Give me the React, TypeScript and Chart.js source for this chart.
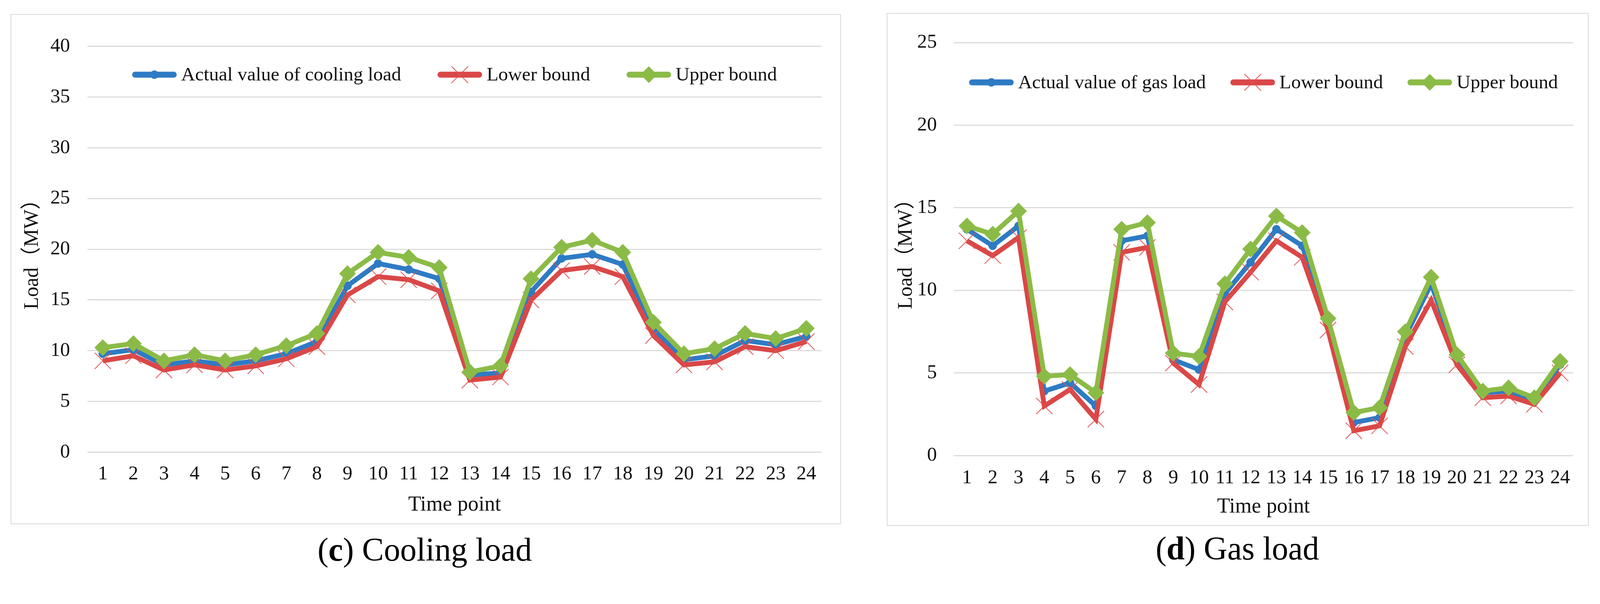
import React, { useEffect, useRef } from 'react';
import { Chart, registerables } from 'chart.js';

Chart.register(...registerables);

// ---------------- data ----------------
const timePoints = ['1', '2', '3', '4', '5', '6', '7', '8', '9', '10', '11', '12', '13', '14', '15', '16', '17', '18', '19', '20', '21', '22', '23', '24'];

const coolingActual = [9.7, 10.1, 8.6, 9.0, 8.6, 9.0, 9.7, 10.9, 16.4, 18.6, 18.0, 17.1, 7.6, 7.8, 15.8, 19.1, 19.5, 18.5, 12.1, 9.1, 9.5, 11.0, 10.6, 11.4];
const coolingLower = [9.0, 9.5, 8.1, 8.6, 8.1, 8.5, 9.2, 10.4, 15.5, 17.3, 17.0, 15.9, 7.1, 7.4, 15.0, 17.9, 18.3, 17.3, 11.5, 8.6, 8.9, 10.4, 10.0, 10.9];
const coolingUpper = [10.3, 10.7, 9.0, 9.6, 9.0, 9.6, 10.5, 11.7, 17.6, 19.7, 19.2, 18.2, 7.9, 8.5, 17.1, 20.2, 20.9, 19.7, 12.8, 9.7, 10.2, 11.7, 11.2, 12.2];

const gasActual = [13.7, 12.7, 13.9, 3.9, 4.4, 3.0, 13.0, 13.3, 5.8, 5.2, 9.8, 11.7, 13.7, 12.7, 8.1, 2.0, 2.3, 7.2, 10.4, 5.9, 3.8, 3.9, 3.3, 5.5];
const gasLower = [13.0, 12.1, 13.2, 3.0, 4.0, 2.2, 12.3, 12.6, 5.6, 4.3, 9.3, 11.1, 13.0, 12.0, 7.6, 1.5, 1.8, 6.6, 9.4, 5.5, 3.5, 3.6, 3.1, 5.0];
const gasUpper = [13.9, 13.4, 14.8, 4.8, 4.9, 3.8, 13.7, 14.1, 6.2, 6.0, 10.4, 12.5, 14.5, 13.5, 8.3, 2.6, 2.9, 7.5, 10.8, 6.1, 3.9, 4.1, 3.5, 5.7];

const coolingLabels = ['Actual value of cooling load', 'Lower bound', 'Upper bound'];
const gasLabels = ['Actual value of gas load', 'Lower bound', 'Upper bound'];

const coolingYMax = 40;
const gasYMax = 25;
const yStep = 5;

// ---------------- styles ----------------
// All geometry below is expressed in reference-image pixels (4306 wide) and scaled to the viewport.
const REF_W = 4306;
const S = typeof window !== 'undefined' && window.innerWidth ? window.innerWidth / REF_W : 1;
const s = (v: number) => v * S;

const FONT = "'Liberation Serif', 'Times New Roman', 'Noto Sans CJK SC', serif";
const BLUE = '#2E7BC4';
const RED = '#DA4747';
const RED_MARK = 'rgba(222, 80, 80, 0.85)';
const GREEN = '#8BBB47';
const GRID = '#D9D9D9';
const TEXT = '#111111';

type Layout = {
  left: number; top: number; width: number; height: number;
  padTop: number; padRight: number;
  yWidth: number; xHeight: number;
  yTitlePad: number; yTickPad: number; xTickPad: number; xTitlePad: number;
  legendOffset: number; itemGap: number;
};

function drawMarker(ctx: CanvasRenderingContext2D, style: string, x: number, y: number, r: number, fill: string, stroke: string, lw: number) {
  ctx.save();
  ctx.fillStyle = fill;
  ctx.strokeStyle = stroke;
  ctx.lineWidth = lw;
  ctx.beginPath();
  if (style === 'circle') {
    ctx.arc(x, y, r, 0, Math.PI * 2);
    ctx.fill();
    ctx.stroke();
  } else if (style === 'rectRot') {
    ctx.moveTo(x, y - r);
    ctx.lineTo(x + r, y);
    ctx.lineTo(x, y + r);
    ctx.lineTo(x - r, y);
    ctx.closePath();
    ctx.fill();
    ctx.stroke();
  } else if (style === 'crossRot') {
    const d = r * Math.SQRT1_2;
    ctx.moveTo(x - d, y - d);
    ctx.lineTo(x + d, y + d);
    ctx.moveTo(x + d, y - d);
    ctx.lineTo(x - d, y + d);
    ctx.stroke();
  }
  ctx.restore();
}

function makeLegendPlugin(offset: number, itemGap: number) {
  return {
    id: 'innerLegend',
    afterDraw(chart: any) {
      const ctx: CanvasRenderingContext2D = chart.ctx;
      const { left, right, top } = chart.chartArea;
      const lineLen = s(120);
      const textGap = s(12);
      ctx.save();
      ctx.font = `${s(52)}px ${FONT}`;
      const items = chart.data.datasets.map((ds: any) => ({ ds, w: ctx.measureText(ds.label).width }));
      let total = 0;
      items.forEach((it: any, i: number) => {
        total += lineLen + textGap + it.w + (i > 0 ? itemGap : 0);
      });
      let x = (left + right) / 2 - total / 2;
      const y = top + offset;
      items.forEach((it: any) => {
        const ds = it.ds;
        ctx.strokeStyle = ds.borderColor;
        ctx.lineWidth = s(16);
        ctx.lineCap = 'round';
        ctx.beginPath();
        ctx.moveTo(x + s(8), y);
        ctx.lineTo(x + lineLen - s(8), y);
        ctx.stroke();
        drawMarker(ctx, ds.pointStyle, x + lineLen / 2, y, ds.pointRadius, ds.pointBackgroundColor, ds.pointBorderColor, ds.pointBorderWidth);
        ctx.fillStyle = TEXT;
        ctx.textAlign = 'left';
        ctx.textBaseline = 'middle';
        ctx.fillText(ds.label, x + lineLen + textGap, y + s(2));
        x += lineLen + textGap + it.w + itemGap;
      });
      ctx.restore();
    },
  };
}

function LoadChart({ layout, labels, actual, lower, upper, yMax }: { layout: Layout; labels: string[]; actual: number[]; lower: number[]; upper: number[]; yMax: number }) {
  const ref = useRef<HTMLCanvasElement | null>(null);
  const bw = s(3);
  const cw = Math.round(s(layout.width) - 2 * bw);
  const ch = Math.round(s(layout.height) - 2 * bw);

  useEffect(() => {
    if (!ref.current) return;
    const chart = new Chart(ref.current, {
      type: 'line',
      data: {
        labels: timePoints,
        datasets: [
          {
            label: labels[0], data: actual, order: 3,
            borderColor: BLUE, backgroundColor: BLUE, borderWidth: s(13),
            pointStyle: 'circle', pointRadius: s(11), pointBackgroundColor: BLUE, pointBorderColor: BLUE, pointBorderWidth: s(1),
            tension: 0,
          } as any,
          {
            label: labels[1], data: lower, order: 2,
            borderColor: RED, backgroundColor: RED, borderWidth: s(13),
            pointStyle: 'crossRot', pointRadius: s(31), pointBackgroundColor: RED_MARK, pointBorderColor: RED_MARK, pointBorderWidth: s(2.5),
            tension: 0,
          } as any,
          {
            label: labels[2], data: upper, order: 1,
            borderColor: GREEN, backgroundColor: GREEN, borderWidth: s(13),
            pointStyle: 'rectRot', pointRadius: s(22), pointBackgroundColor: GREEN, pointBorderColor: GREEN, pointBorderWidth: s(1),
            tension: 0,
          } as any,
        ],
      },
      options: {
        animation: false,
        responsive: false,
        layout: { padding: { top: s(layout.padTop), right: s(layout.padRight), left: 0, bottom: 0 } },
        plugins: {
          legend: { display: false },
          tooltip: { enabled: false },
        },
        scales: {
          x: {
            type: 'category',
            offset: true,
            grid: { display: false, drawTicks: false },
            border: { display: false },
            ticks: {
              autoSkip: false, maxRotation: 0, minRotation: 0,
              color: TEXT, padding: s(layout.xTickPad),
              font: { family: FONT, size: s(53) },
            },
            title: {
              display: true, text: 'Time point', color: TEXT,
              font: { family: FONT, size: s(57) },
              padding: { top: 0, bottom: s(layout.xTitlePad) },
            },
            afterFit: (scale: any) => { scale.height = s(layout.xHeight); },
          },
          y: {
            min: 0, max: yMax,
            grid: { color: GRID, lineWidth: s(3), drawTicks: false },
            border: { display: false },
            ticks: {
              stepSize: yStep, color: TEXT, padding: s(layout.yTickPad),
              font: { family: FONT, size: s(53) },
            },
            title: {
              display: true, text: 'Load（MW）', color: TEXT,
              font: { family: FONT, size: s(55) },
              padding: { top: s(layout.yTitlePad), bottom: 0 },
            },
            afterFit: (scale: any) => { scale.width = s(layout.yWidth); },
          },
        },
      },
      plugins: [makeLegendPlugin(s(layout.legendOffset), s(layout.itemGap))],
    } as any);
    return () => chart.destroy();
  }, []);

  return (
    <div style={{
      position: 'absolute', left: s(layout.left), top: s(layout.top), width: s(layout.width), height: s(layout.height),
      border: `${bw}px solid ${GRID}`, boxSizing: 'border-box', background: '#fff',
    }}>
      <canvas ref={ref} width={cw} height={ch} style={{ width: cw, height: ch, display: 'block' }} />
    </div>
  );
}

const leftLayout: Layout = {
  left: 28, top: 38, width: 2235, height: 1373,
  padTop: 85, padRight: 48, yWidth: 205, xHeight: 190,
  yTitlePad: 24, yTickPad: 47, xTickPad: 28, xTitlePad: 13,
  legendOffset: 76, itemGap: 98,
};

const rightLayout: Layout = {
  left: 2386, top: 35, width: 1890, height: 1380,
  padTop: 57, padRight: 39, yWidth: 179, xHeight: 185,
  yTitlePad: 18, yTickPad: 46, xTickPad: 29, xTitlePad: 12,
  legendOffset: 107, itemGap: 66,
};

const captionStyle: React.CSSProperties = {
  position: 'absolute', width: s(1200), textAlign: 'center', fontFamily: FONT,
  fontSize: s(88), lineHeight: `${s(88)}px`, color: '#000', whiteSpace: 'nowrap',
};

export default function App() {
  useEffect(() => {
    document.body.style.overflow = 'hidden';
  }, []);
  return (
    <div style={{ position: 'absolute', left: 0, top: 0, width: s(REF_W), height: s(1546), background: '#fff', overflow: 'hidden' }}>
      <LoadChart layout={leftLayout} labels={coolingLabels} actual={coolingActual} lower={coolingLower} upper={coolingUpper} yMax={coolingYMax} />
      <LoadChart layout={rightLayout} labels={gasLabels} actual={gasActual} lower={gasLower} upper={gasUpper} yMax={gasYMax} />
      <div style={{ ...captionStyle, left: s(1143 - 600), top: s(1435) }}>
        (<b>c</b>) Cooling load
      </div>
      <div style={{ ...captionStyle, left: s(3330 - 600), top: s(1432) }}>
        (<b>d</b>) Gas load
      </div>
    </div>
  );
}
